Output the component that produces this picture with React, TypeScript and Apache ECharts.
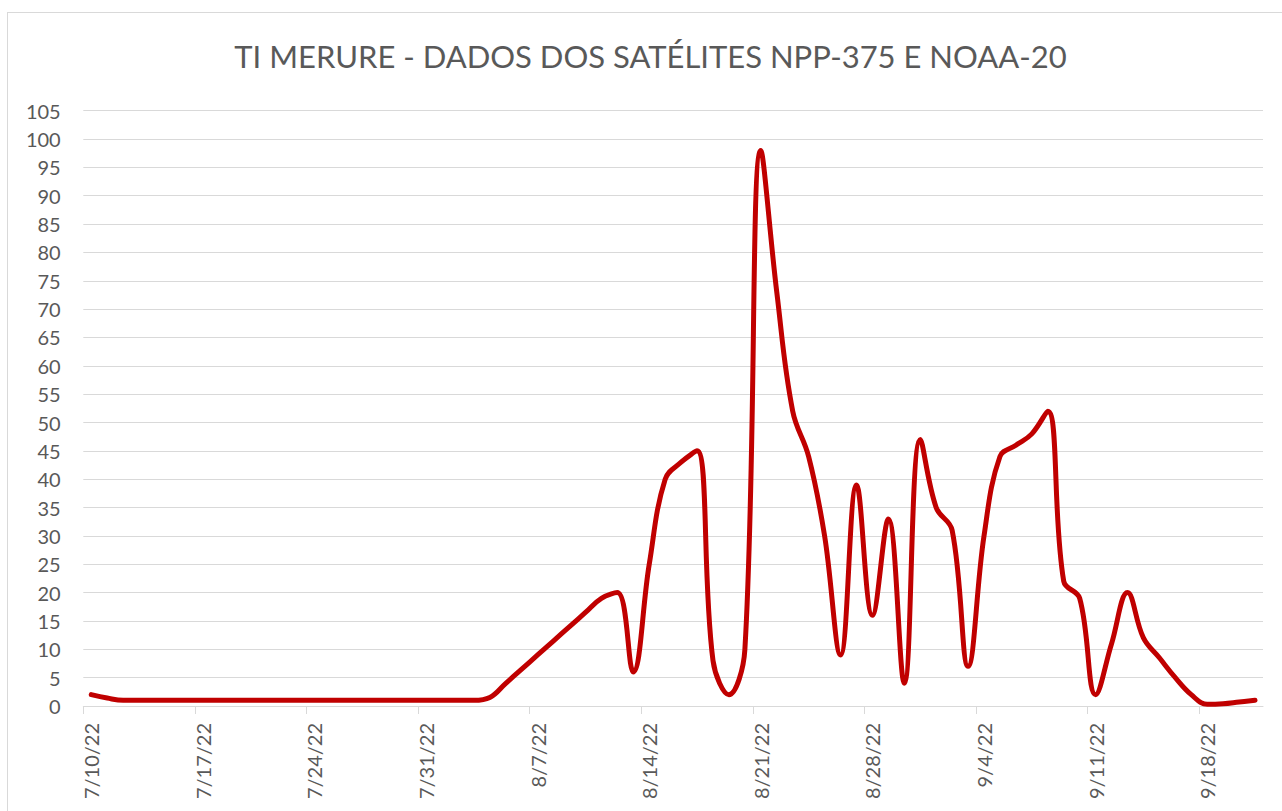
import React, { useEffect, useRef } from "react";
import * as echarts from "echarts";

const titleText = "TI MERURE - DADOS DOS SATÉLITES NPP-375 E NOAA-20";
const startDateUTC = Date.UTC(2022, 6, 10); // 7/10/22, first day of the axis
const dayCount = 74; // axis spans 7/10/22 .. 9/21/22 (one slot per day)

// one value per day, starting 7/10/22
const dailyValues = [
  2, 1.4, 1, 1, 1, 1, 1, 1, 1, 1,
  1, 1, 1, 1, 1, 1, 1, 1, 1, 1,
  1, 1, 1, 1, 1, 1.5, 4, 6.5, 9, 11.5,
  14, 16.5, 19, 20, 6, 25, 40, 43, 45, 8,
  2, 10, 98, 73, 52, 44, 30, 9, 39, 16,
  33, 4, 47, 35, 31, 7, 30, 44, 46, 48,
  52, 22, 19, 2, 11, 20, 12, 8.5, 5, 2,
  0.3, 0.4, 0.7, 1,
];

const tickDays = [0, 7, 14, 21, 28, 35, 42, 49, 56, 63, 70];
const labelDays = [0.5, 7.5, 14.5, 21.5, 28.5, 35.5, 42.5, 49.5, 56.5, 63.5, 70.5];

const yMax = 105;
const yStep = 5;

function dayLabel(v: number): string {
  const d = new Date(startDateUTC + Math.floor(v) * 86400000);
  return `${d.getUTCMonth() + 1}/${d.getUTCDate()}/${String(d.getUTCFullYear()).slice(2)}`;
}

export default function App() {
  const ref = useRef<HTMLDivElement>(null);

  useEffect(() => {
    if (!ref.current) return;
    const chart = echarts.init(ref.current, undefined, { renderer: "svg" });
    const seriesData = dailyValues.map((v, i) => [i + 0.5, v]);
    const gridColor = "#d9d9d9";
    const textColor = "#595959";
    const font = "Lato, 'Open Sans', sans-serif";

    chart.setOption({
      animation: false,
      backgroundColor: "#ffffff",
      grid: { left: 83.3, right: 19, top: 110.7, bottom: 105, containLabel: false },
      graphic: [
        {
          type: "line",
          silent: true,
          shape: { x1: 7.5, y1: 12, x2: 7.5, y2: 811 },
          style: { stroke: gridColor, lineWidth: 1 },
        },
        {
          type: "line",
          silent: true,
          shape: { x1: 7, y1: 12.5, x2: 1282, y2: 12.5 },
          style: { stroke: gridColor, lineWidth: 1 },
        },
        {
          type: "text",
          x: 650.5,
          y: 56,
          style: {
            text: titleText,
            fill: textColor,
            font: `400 31px ${font}`,
            textAlign: "center",
            textVerticalAlign: "middle",
          },
        },
      ],
      xAxis: {
        type: "value",
        min: 0,
        max: dayCount,
        interval: 7,
        axisLine: { show: true, lineStyle: { color: gridColor, width: 1 } },
        axisTick: {
          show: true,
          length: 8,
          customValues: tickDays,
          lineStyle: { color: gridColor, width: 1 },
        },
        splitLine: { show: false },
        axisLabel: {
          customValues: labelDays,
          rotate: 90,
          margin: 17,
          color: textColor,
          fontFamily: font,
          fontSize: 20,
          formatter: (v: number) => dayLabel(v),
        },
      },
      yAxis: {
        type: "value",
        min: 0,
        max: yMax,
        interval: yStep,
        axisLine: { show: false },
        axisTick: { show: false },
        splitLine: { show: true, lineStyle: { color: gridColor, width: 1 } },
        axisLabel: {
          margin: 22.6,
          color: textColor,
          fontFamily: font,
          fontSize: 20,
        },
      },
      series: [
        {
          type: "line",
          data: seriesData,
          smooth: 0.4,
          symbol: "none",
          lineStyle: { color: "#C00000", width: 5, cap: "round", join: "round" },
        },
      ],
    });

    return () => chart.dispose();
  }, []);

  return (
    <div
      ref={ref}
      style={{ position: "fixed", left: 0, top: 0, width: 1282, height: 811 }}
    />
  );
}
